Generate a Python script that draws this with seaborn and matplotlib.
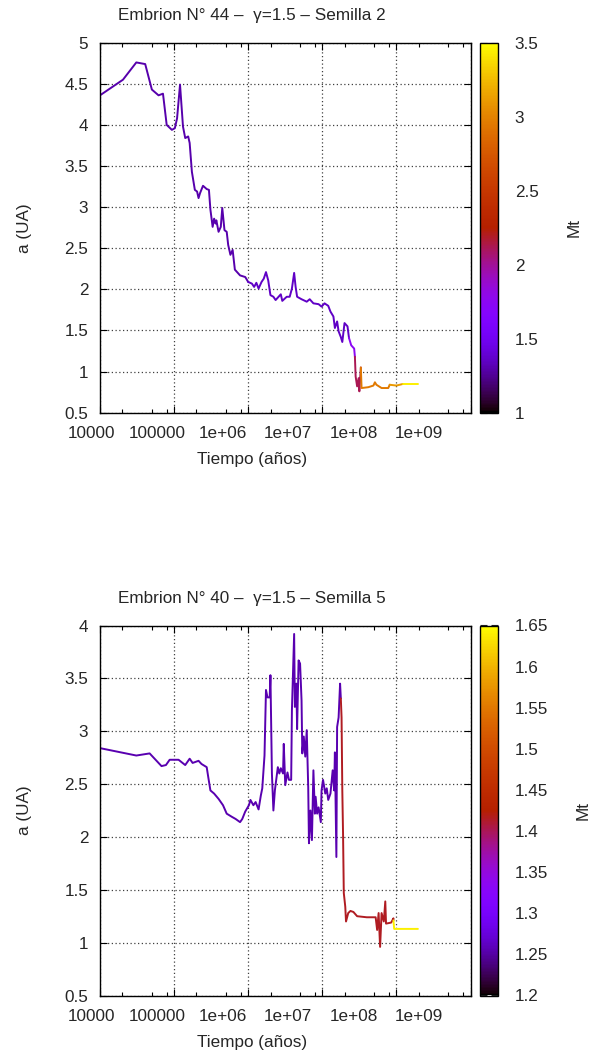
import numpy as np
import pandas as pd
import matplotlib
matplotlib.use("Agg")
import matplotlib.pyplot as plt
import seaborn as sns
from matplotlib.colors import Normalize
from matplotlib.cm import ScalarMappable
from matplotlib.ticker import LogLocator, FormatStrFormatter, NullFormatter

# ---------------- datos ----------------
# panel 1: Embrion 44, semilla 2  (tiempo en log10(años))
logt_44 = [4.00, 4.31, 4.49, 4.61, 4.70, 4.79, 4.85, 4.90, 4.97, 5.01, 5.04, 5.08,
           5.12, 5.15, 5.19, 5.21, 5.24, 5.28, 5.31, 5.33, 5.35, 5.39, 5.44, 5.47,
           5.49, 5.52, 5.54, 5.56, 5.57, 5.60, 5.63, 5.65, 5.68, 5.71, 5.73, 5.76,
           5.79, 5.82, 5.89, 5.96, 6.00, 6.05, 6.08, 6.11, 6.14, 6.18, 6.21, 6.24,
           6.27, 6.30, 6.34, 6.37, 6.41, 6.44, 6.46, 6.52, 6.56, 6.59, 6.62, 6.64,
           6.66, 6.72, 6.79, 6.83, 6.88, 6.95, 6.99, 7.03, 7.08, 7.11, 7.15, 7.17,
           7.20, 7.22, 7.25, 7.27, 7.30, 7.34, 7.36, 7.39, 7.43, 7.44, 7.45, 7.47,
           7.49, 7.50, 7.52, 7.53, 7.62, 7.69, 7.71, 7.73, 7.80, 7.89, 7.91, 8.00,
           8.09, 8.29]
a_44 = [4.36, 4.55, 4.76, 4.74, 4.43, 4.36, 4.38, 4.00, 3.94, 3.96, 4.08, 4.49,
        3.98, 3.84, 3.86, 3.78, 3.43, 3.21, 3.19, 3.11, 3.17, 3.26, 3.22, 3.21,
        2.97, 2.76, 2.86, 2.80, 2.84, 2.70, 2.76, 2.99, 2.72, 2.70, 2.54, 2.42,
        2.48, 2.24, 2.17, 2.15, 2.09, 2.07, 2.03, 2.08, 2.01, 2.09, 2.13, 2.21,
        2.11, 1.93, 1.91, 1.87, 1.91, 1.94, 1.86, 1.91, 1.91, 2.01, 2.20, 2.03,
        1.91, 1.88, 1.85, 1.88, 1.83, 1.82, 1.79, 1.83, 1.80, 1.73, 1.67, 1.53,
        1.61, 1.49, 1.42, 1.36, 1.59, 1.55, 1.41, 1.32, 1.28, 1.18, 0.94, 0.82,
        0.92, 0.76, 1.05, 0.80, 0.81, 0.83, 0.87, 0.84, 0.80, 0.80, 0.84, 0.83,
        0.85, 0.85]
mt_44 = [1.30] * 40 + [1.36] * 38 + [1.75] * 3 + [2.12] * 5 + [2.95] * 8 + [3.10] * 2 + [3.45] * 2

# panel 2: Embrion 40, semilla 5
logt_40 = [4.00, 4.49, 4.67, 4.83, 4.89, 4.94, 5.06, 5.15, 5.21, 5.25, 5.33, 5.37,
           5.44, 5.46, 5.49, 5.54, 5.60, 5.66, 5.71, 5.78, 5.83, 5.89, 5.92, 5.96,
           6.01, 6.03, 6.07, 6.10, 6.14, 6.17, 6.19, 6.22, 6.24, 6.26, 6.29, 6.30,
           6.32, 6.34, 6.36, 6.40, 6.42, 6.44, 6.47, 6.48, 6.50, 6.53, 6.55, 6.58,
           6.59, 6.62, 6.63, 6.65, 6.66, 6.68, 6.70, 6.72, 6.73, 6.75, 6.77, 6.79,
           6.81, 6.82, 6.84, 6.86, 6.88, 6.90, 6.91, 6.93, 6.95, 6.98, 6.99, 7.01,
           7.04, 7.06, 7.08, 7.11, 7.14, 7.16, 7.17, 7.19, 7.20, 7.22, 7.24,
           7.25, 7.26, 7.27, 7.28, 7.29, 7.31, 7.32, 7.35, 7.38, 7.42, 7.47, 7.60,
           7.72, 7.74, 7.76, 7.78, 7.80, 7.83, 7.85, 7.86, 7.93, 7.96,
           7.96, 7.97, 8.29]
a_40 = [2.84, 2.77, 2.79, 2.67, 2.68, 2.73, 2.73, 2.68, 2.74, 2.70, 2.72, 2.69,
        2.66, 2.57, 2.44, 2.41, 2.36, 2.30, 2.22, 2.19, 2.17, 2.14, 2.17, 2.24,
        2.30, 2.35, 2.30, 2.33, 2.26, 2.39, 2.46, 2.77, 3.39, 3.32, 3.32, 3.53,
        2.60, 2.25, 2.44, 2.66, 2.60, 2.65, 2.60, 2.88, 2.49, 2.61, 2.54, 2.54,
        3.20, 3.92, 3.23, 3.45, 3.02, 3.67, 3.64, 3.29, 2.79, 2.95, 2.76, 3.01,
        2.47, 1.94, 2.25, 1.97, 2.63, 2.22, 2.38, 2.22, 2.28, 2.14, 2.44, 2.54,
        2.41, 2.46, 2.35, 2.41, 2.63, 2.44, 2.80, 1.81, 3.04, 3.13, 3.45,
        3.31, 3.13, 2.44, 2.03, 1.47, 1.34, 1.20, 1.28, 1.30, 1.29, 1.25, 1.24,
        1.24, 1.12, 1.28, 0.96, 1.28, 1.20, 1.39, 1.18, 1.19, 1.23,
        1.21, 1.13, 1.13]
mt_40 = [1.255] * 83 + [1.415] * 22 + [1.64] * 3

xtick_labels = ["10000", "100000", "1e+06", "1e+07", "1e+08", "1e+09"]

# ---------------- estilo ----------------
sns.set_style("white")
plt.rcParams["font.family"] = ["Liberation Sans", "DejaVu Sans"]
plt.rcParams["font.size"] = 12.3

W, H = 591, 1059
fig = plt.figure(figsize=(W / 100, H / 100), dpi=100)


def tramos(logt, a, mt):
    # corta la curva en tramos de Mt constante (cada tramo comparte su ultimo punto)
    n = len(a)
    cortes = [0] + [i for i in range(1, n) if mt[i] != mt[i - 1]] + [n]
    filas = []
    for k in range(len(cortes) - 1):
        s, e = cortes[k], cortes[k + 1]
        for i in range(s, min(e + 1, n)):
            filas.append((k, 10 ** logt[i], a[i], mt[s]))
    return pd.DataFrame(filas, columns=["seg", "t", "a", "Mt"])


def panel(top_px, logt, a, mt, ylim, cb_lim, cb_ticks, titulo):
    ax = fig.add_axes([100 / W, 1 - (top_px + 370) / H, 370.5 / W, 370 / H])
    cax = fig.add_axes([480 / W, 1 - (top_px + 370) / H, 18 / W, 370 / H])
    norm = Normalize(*cb_lim)

    df = tramos(logt, a, mt)
    sns.lineplot(data=df, x="t", y="a", hue="Mt", units="seg", estimator=None,
                 palette="gnuplot", hue_norm=norm, sort=False, legend=False,
                 lw=1.4, ax=ax)

    ax.set_xscale("log")
    ax.set_xlim(1e4, 1e9)
    ax.set_ylim(*ylim)
    ax.xaxis.set_major_locator(LogLocator(base=10))
    ax.xaxis.set_minor_locator(LogLocator(base=10, subs=(2, 5, 8)))
    ax.xaxis.set_minor_formatter(NullFormatter())
    ax.set_yticks(np.arange(ylim[0], ylim[1] + 0.01, 0.5))
    ax.yaxis.set_major_formatter(FormatStrFormatter("%g"))
    ax.tick_params(which="both", direction="in", top=True, right=True,
                   bottom=True, left=True, labelbottom=False, width=0.8,
                   color="black")
    ax.tick_params(which="major", length=5, pad=8.5)
    ax.tick_params(which="minor", length=3)
    ax.grid(True, which="major", ls=(0, (1, 2)), color="0.25", lw=0.9)
    ax.set_axisbelow(True)
    for sp in ax.spines.values():
        sp.set_color("black")
        sp.set_linewidth(1)
    ax.set_xlabel("")
    ax.set_ylabel("")

    # etiquetas del eje x (desplazadas como en la figura original)
    for k, lab in enumerate(xtick_labels):
        f = k / 5
        ax.text(-0.0216 + 0.883 * f, -25.3 / 370, lab, ha="center", va="baseline",
                transform=ax.transAxes)
    ax.text(0.41, -51 / 370, "Tiempo (años)", ha="center", va="baseline",
            transform=ax.transAxes)
    ax.text(-0.204, 0.5, "a (UA)", ha="center", va="center", rotation=90,
            transform=ax.transAxes)
    ax.text(0.41, 1 + 23 / 370, titulo, ha="center", va="baseline",
            transform=ax.transAxes)

    cb = fig.colorbar(ScalarMappable(norm=norm, cmap="gnuplot"), cax=cax)
    cb.set_ticks(cb_ticks)
    cb.ax.yaxis.set_major_formatter(FormatStrFormatter("%g"))
    cb.outline.set_linewidth(1)
    cb.outline.set_edgecolor("black")
    cax.tick_params(axis="y", direction="in", left=True, right=True, length=5,
                    width=0.8, color="#222222", pad=12)
    cb.set_label("Mt", labelpad=20)


panel(42.7, logt_44, a_44, mt_44, (0.5, 5), (1, 3.5),
      [1, 1.5, 2, 2.5, 3, 3.5], "Embrion N° 44 –  γ=1.5 – Semilla 2")
panel(625.5, logt_40, a_40, mt_40, (0.5, 4), (1.2, 1.65),
      list(np.round(np.arange(1.2, 1.651, 0.05), 2)), "Embrion N° 40 –  γ=1.5 – Semilla 5")

fig.savefig("out.png", dpi=100)
